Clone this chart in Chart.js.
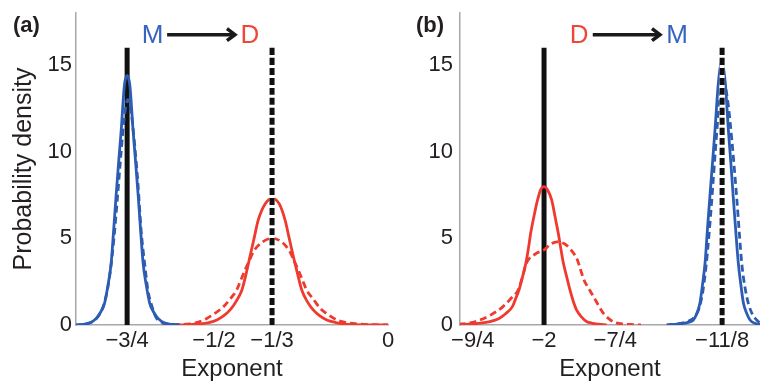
<!DOCTYPE html>
<html>
<head>
<meta charset="utf-8">
<script src="https://cdn.jsdelivr.net/npm/chart.js@4/dist/chart.umd.min.js"></script>
<style>
  body { margin: 0; background: #fff; }
  #wrap { position: relative; width: 760px; height: 381px; overflow: hidden; }
  canvas { position: absolute; top: 0; }
</style>
</head>
<body>
<div id="wrap">
  <canvas id="chartA" width="400" height="381" style="left:0"></canvas>
  <canvas id="chartB" width="360" height="381" style="left:400px"></canvas>
</div>
<script>
/* density curves: two panels, M and D distributions */

// ---- panel (a) ----
const xTicksA = [-0.75, -0.5, -1 / 3, 0];
const xTickLabelsA = ['\u22123/4', '\u22121/2', '\u22121/3', '0'];

// M, solid
const xA_mSolid = [-0.9, -0.877, -0.855, -0.839, -0.826, -0.815, -0.805, -0.796, -0.789, -0.782, -0.774, -0.767, -0.758, -0.75,
                   -0.742, -0.733, -0.726, -0.718, -0.711, -0.704, -0.695, -0.685, -0.674, -0.661, -0.645, -0.623, -0.6];
const yA_mSolid = [0, 0.04, 0.14, 0.38, 0.75, 1.25, 2.3, 3.55, 5.4, 7.4, 9.5, 11.25, 13.8, 14.4,
                   13.8, 11.25, 9.5, 7.4, 5.4, 3.55, 2.3, 1.25, 0.75, 0.38, 0.14, 0.04, 0];
// M, dashed
const xA_mDash = [-0.9, -0.87, -0.85, -0.835, -0.82, -0.808, -0.797, -0.787, -0.778, -0.768, -0.758, -0.748,
                  -0.738, -0.728, -0.719, -0.71, -0.7, -0.69, -0.679, -0.667, -0.65, -0.63, -0.6];
const yA_mDash = [0, 0.05, 0.18, 0.45, 1.0, 1.9, 3.3, 5.2, 7.3, 9.8, 12.0, 13.0,
                  12.2, 10.3, 8.2, 5.5, 3.6, 1.98, 1.1, 0.44, 0.15, 0.04, 0];
// D, solid
const xA_dSolid = [-0.62, -0.57, -0.54, -0.515, -0.492, -0.473, -0.454, -0.437, -0.42, -0.408, -0.397, -0.385, -0.373, -0.353, -0.333,
                   -0.313, -0.296, -0.284, -0.272, -0.26, -0.248, -0.232, -0.215, -0.196, -0.176, -0.15, -0.129, -0.1, 0];
const yA_dSolid = [0, 0.02, 0.06, 0.14, 0.29, 0.52, 0.87, 1.35, 2.02, 2.95, 3.94, 5.0, 6.06, 7.0, 7.31,
                   7.0, 6.06, 5.0, 3.94, 2.95, 2.02, 1.35, 0.87, 0.52, 0.29, 0.14, 0.06, 0.02, 0];
// D, dashed
const xA_dDash = [-0.65, -0.6, -0.569, -0.545, -0.521, -0.497, -0.473, -0.454, -0.435, -0.423, -0.411, -0.399, -0.387, -0.36, -0.333,
                  -0.306, -0.282, -0.27, -0.258, -0.246, -0.234, -0.215, -0.195, -0.171, -0.147, -0.12, -0.09, -0.05, 0];
const yA_dDash = [0, 0.02, 0.06, 0.17, 0.38, 0.68, 1.06, 1.5, 2.02, 2.6, 3.17, 3.7, 4.23, 4.8, 5.0,
                  4.8, 4.23, 3.7, 3.17, 2.6, 2.02, 1.5, 0.96, 0.58, 0.29, 0.14, 0.06, 0.02, 0];

// ---- panel (b) ----
const xTicksB = [-2.25, -2, -1.75, -1.375];
const xTickLabelsB = ['\u22129/4', '\u22122', '\u22127/4', '\u221211/8'];

// D, solid
const xB_dSolid = [-2.3, -2.23, -2.19, -2.158, -2.135, -2.111, -2.1, -2.088, -2.076, -2.064, -2.055, -2.047, -2.035, -2.023, -2.012, -2.0,
                   -1.988, -1.973, -1.962, -1.95, -1.941, -1.932, -1.92, -1.909, -1.898, -1.886, -1.868, -1.851, -1.83, -1.81, -1.78];
const yB_dSolid = [0, 0.1, 0.2, 0.38, 0.65, 1.06, 1.5, 2.02, 2.75, 3.56, 4.4, 5.29, 6.3, 7.2, 7.8, 7.98,
                   7.8, 7.2, 6.3, 5.29, 4.4, 3.56, 2.75, 2.02, 1.4, 0.87, 0.45, 0.2, 0.1, 0.05, 0];
// D, dashed
const xB_dDash = [-2.3, -2.26, -2.225, -2.185, -2.144, -2.118, -2.091, -2.076, -2.062, -2.03, -2.0, -1.978, -1.955,
                  -1.93, -1.906, -1.883, -1.872, -1.86, -1.843, -1.825, -1.808, -1.79, -1.772, -1.754, -1.72, -1.68, -1.66];
const yB_dDash = [0.05, 0.12, 0.29, 0.6, 1.06, 1.5, 2.02, 2.75, 3.56, 4.1, 4.33, 4.65, 4.8,
                  4.7, 4.35, 3.75, 3.2, 2.6, 2.1, 1.6, 1.1, 0.64, 0.35, 0.16, 0.05, 0.02, 0];
// M, solid
const xB_mSolid = [-1.56, -1.523, -1.495, -1.476, -1.464, -1.453, -1.444, -1.435, -1.427, -1.418, -1.409, -1.4, -1.388, -1.376,
                   -1.364, -1.353, -1.344, -1.336, -1.327, -1.318, -1.309, -1.3, -1.288, -1.277, -1.26, -1.242];
const yB_mSolid = [0, 0.06, 0.15, 0.29, 0.65, 1.25, 2.3, 3.55, 5.4, 7.4, 9.3, 11.25, 14.0, 15.2,
                   14.0, 11.25, 9.3, 7.4, 5.4, 3.55, 2.3, 1.25, 0.65, 0.29, 0.1, 0.04];
// M, dashed
const xB_mDash = [-1.57, -1.52, -1.49, -1.47, -1.455, -1.443, -1.432, -1.421, -1.41, -1.398, -1.385, -1.37,
                  -1.355, -1.341, -1.332, -1.324, -1.315, -1.306, -1.295, -1.283, -1.268, -1.254, -1.242];
const yB_mDash = [0, 0.1, 0.25, 0.5, 1.0, 1.9, 3.3, 5.2, 7.5, 10.2, 12.8, 14.0,
                  12.9, 10.7, 9.0, 7.4, 5.4, 3.55, 2.2, 1.25, 0.6, 0.29, 0.12];

// vertical reference lines (solid = start, dashed = end exponent)
const refA = [-0.75, -1 / 3];
const refB = [-2, -1.375];
const refTop = 16;

const yTicks = [0, 5, 10, 15];

/**************** styles *************************/
const family = '"Liberation Sans", Arial, Helvetica, sans-serif';
const textColor = '#231f20';
const axisColor = '#a8a8a8';
const blue = '#2d5db3';
const red = '#ee3a2f';

function pts(xs, ys) {
    return xs.map((x, i) => ({ x: x, y: ys[i] }));
}

function vline(x) {
    return [{ x: x, y: 0 }, { x: x, y: refTop }];
}

function curve(data, color, dashed, order) {
    return {
        data: data,
        borderColor: color,
        borderWidth: 2.8,
        borderDash: dashed ? [7, 4] : [],
        order: order
    };
}

function refLines(xs) {
    return [
        // solid one sits under the curves
        { data: vline(xs[0]), borderColor: '#111', borderWidth: 5, order: 10, tension: 0 },
        // dashed one: white underlay then black dashes on top
        { data: vline(xs[1]), borderColor: '#111', borderWidth: 5, borderDash: [7, 3], order: 0, tension: 0 },
        { data: vline(xs[1]), borderColor: '#fff', borderWidth: 5, order: 1, tension: 0 }
    ];
}

// panel tag plus the "X -> Y" arrow note on top
const panelMarks = {
    id: 'panelMarks',
    afterDraw(chart, args, o) {
        const ctx = chart.ctx;
        const xs = chart.scales.x, ys = chart.scales.y;
        ctx.save();
        ctx.textBaseline = 'middle';
        ctx.fillStyle = textColor;
        ctx.font = 'bold 22px ' + family;
        ctx.textAlign = 'left';
        ctx.fillText(o.tag, o.tagX, 26);

        const yy = ys.getPixelForValue(o.noteY);
        ctx.font = '26px ' + family;
        ctx.textAlign = 'center';
        ctx.fillStyle = o.fromColor;
        ctx.fillText(o.fromText, xs.getPixelForValue(o.fromX), yy + 1);
        ctx.fillStyle = o.toColor;
        ctx.fillText(o.toText, xs.getPixelForValue(o.toX), yy + 1);

        const x1 = xs.getPixelForValue(o.arrowFrom);
        const x2 = xs.getPixelForValue(o.arrowTo);
        ctx.strokeStyle = '#1a1a1a';
        ctx.lineWidth = 3.5;
        ctx.beginPath();
        ctx.moveTo(x1, yy);
        ctx.lineTo(x2 - 2, yy);
        ctx.stroke();
        ctx.lineJoin = 'miter';
        ctx.beginPath();
        ctx.moveTo(x2 - 8, yy - 6);
        ctx.lineTo(x2, yy);
        ctx.lineTo(x2 - 8, yy + 6);
        ctx.stroke();
        ctx.restore();
    }
};

function makeOptions(cfg) {
    return {
        responsive: false,
        animation: false,
        events: [],
        layout: { padding: { left: 0, right: cfg.padRight, top: 13, bottom: 0 } },
        elements: {
            point: { radius: 0, hoverRadius: 0 },
            line: { tension: 0.4, cubicInterpolationMode: 'monotone', fill: false, borderCapStyle: 'butt' }
        },
        plugins: {
            legend: { display: false },
            tooltip: { enabled: false },
            panelMarks: cfg.marks
        },
        scales: {
            x: {
                type: 'linear',
                min: cfg.xMin,
                max: cfg.xMax,
                grid: { display: false, drawTicks: false },
                border: { display: true, color: axisColor, width: 1.5 },
                afterBuildTicks: s => { s.ticks = cfg.xTicks.map(v => ({ value: v })); },
                afterFit: s => { s.height = 56; s.paddingLeft = 0; s.paddingRight = 0; },
                ticks: {
                    autoSkip: false,
                    maxRotation: 0,
                    padding: 3,
                    color: textColor,
                    font: { family: family, size: 22 },
                    callback: (v, i) => cfg.xTickLabels[i]
                },
                title: {
                    display: true,
                    text: 'Exponent',
                    color: textColor,
                    font: { family: family, size: 24, lineHeight: 1 },
                    padding: 0
                }
            },
            y: {
                type: 'linear',
                min: 0,
                max: 18,
                grid: { display: false, drawTicks: false },
                border: { display: true, color: axisColor, width: 1.5 },
                afterBuildTicks: s => { s.ticks = yTicks.map(v => ({ value: v })); },
                afterFit: s => { s.width = cfg.yWidth; s.paddingTop = 0; s.paddingBottom = 0; },
                ticks: {
                    padding: cfg.yPad,
                    color: textColor,
                    font: { family: family, size: 22 }
                },
                title: {
                    display: cfg.yTitle,
                    text: 'Probability density',
                    color: textColor,
                    font: { family: family, size: 25, lineHeight: 1 },
                    padding: { top: 12, bottom: 0 }
                }
            }
        }
    };
}

/**************** charts *************************/

new Chart(document.getElementById('chartA'), {
    type: 'line',
    data: {
        datasets: refLines(refA).concat([
            curve(pts(xA_mSolid, yA_mSolid), blue, false, 3),
            curve(pts(xA_mDash, yA_mDash), blue, true, 4),
            curve(pts(xA_dSolid, yA_dSolid), red, false, 5),
            curve(pts(xA_dDash, yA_dDash), red, true, 6)
        ])
    },
    options: makeOptions({
        padRight: 12,
        xMin: -0.897, xMax: 0,
        xTicks: xTicksA, xTickLabels: xTickLabelsA,
        yWidth: 76, yPad: 4, yTitle: true,
        marks: {
            tag: '(a)', tagX: 13, noteY: 16.75,
            fromText: 'M', fromColor: '#3764c0', fromX: -0.677,
            toText: 'D', toColor: '#f0463a', toX: -0.397,
            arrowFrom: -0.635, arrowTo: -0.44
        }
    }),
    plugins: [panelMarks]
});

new Chart(document.getElementById('chartB'), {
    type: 'line',
    data: {
        datasets: refLines(refB).concat([
            curve(pts(xB_dSolid, yB_dSolid), red, false, 3),
            curve(pts(xB_dDash, yB_dDash), red, true, 4),
            curve(pts(xB_mSolid, yB_mSolid), blue, false, 5),
            curve(pts(xB_mDash, yB_mDash), blue, true, 6)
        ])
    },
    options: makeOptions({
        padRight: 0,
        xMin: -2.295, xMax: -1.242,
        xTicks: xTicksB, xTickLabels: xTickLabelsB,
        yWidth: 60, yPad: 7, yTitle: false,
        marks: {
            tag: '(b)', tagX: 16, noteY: 16.75,
            fromText: 'D', fromColor: '#f0463a', fromX: -1.877,
            toText: 'M', toColor: '#3764c0', toX: -1.533,
            arrowFrom: -1.829, arrowTo: -1.593
        }
    }),
    plugins: [panelMarks]
});
</script>
</body>
</html>
